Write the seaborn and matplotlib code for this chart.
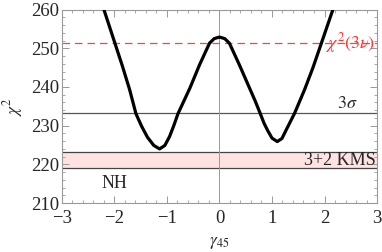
import numpy as np
import pandas as pd
import matplotlib
matplotlib.use('Agg')
import matplotlib.pyplot as plt
import seaborn as sns

# chi^2 profile
gamma = [-2.20, -1.99, -1.85, -1.71, -1.59, -1.48, -1.37, -1.25, -1.14, -1.04,
         -0.95, -0.87, -0.79, -0.68, -0.56, -0.38, -0.19, -0.10, 0.00, 0.10,
         0.19, 0.38, 0.57, 0.68, 0.775, 0.85, 0.92, 1.00, 1.10, 1.19,
         1.27, 1.43, 1.62, 1.78, 1.94, 2.16]
chi2 = [260.0, 251.3, 245.5, 239.3, 233.1, 229.8, 227.0, 224.9, 224.0, 224.9,
        227.2, 230.0, 233.1, 236.3, 239.8, 245.7, 251.3, 252.5, 252.9, 252.5,
        251.3, 245.7, 239.8, 236.4, 233.2, 230.6, 228.7, 226.8, 225.9, 226.7,
        228.9, 233.2, 239.3, 245.0, 251.3, 260.0]

chi2_3nu = 251.3
sigma3 = 233.2
kms_band = [219.1, 223.1]

df = pd.DataFrame({'gamma45': gamma, 'chi2': chi2})

sns.set_style('ticks')
plt.rcParams['font.family'] = ['Liberation Serif', 'DejaVu Serif']
plt.rcParams['mathtext.fontset'] = 'stix'

fig = plt.figure(figsize=(3.82, 2.52), dpi=100)
ax = fig.add_axes([0.162, 0.194, 0.825, 0.768])

ax.axhspan(kms_band[0], kms_band[1], color='#ffe3e3', lw=0, zorder=0)
for yv in kms_band:
    ax.axhline(yv, color='#444444', lw=0.9, zorder=1)
ax.axhline(sigma3, color='#555555', lw=0.9, zorder=1)
ax.axvline(0, color='#999999', lw=0.7, zorder=1)
ax.axhline(chi2_3nu, color='#ff4040', lw=0.9, ls=(0, (6, 4)), zorder=1)

sns.lineplot(data=df, x='gamma45', y='chi2', color='black', lw=2.3,
             sort=False, ax=ax, zorder=3)
ax.lines[-1].set_solid_joinstyle('round')

ax.text(2.97, chi2_3nu, r'$\chi^2(3\nu)$', color='#ff3030', fontsize=13,
        ha='right', va='center', zorder=4)
ax.text(2.62, sigma3 + 0.3, r'$3\sigma$', fontsize=13, ha='right', va='bottom')
ax.text(2.97, sum(kms_band) / 2, '3+2 KMS', fontsize=13, ha='right', va='center')
ax.text(-2.0, 215, 'NH', fontsize=13, ha='center', va='center')

ax.set_xlim(-3, 3)
ax.set_ylim(210, 260)
ax.set_xticks(np.arange(-3, 4, 1))
ax.set_xticklabels(['\u22123', '\u22122', '\u22121', '0', '1', '2', '3'])
ax.set_yticks(np.arange(210, 261, 10))
ax.set_xticks(np.arange(-3, 3.01, 0.2), minor=True)
ax.set_yticks(np.arange(210, 260.1, 2), minor=True)
ax.tick_params(which='both', direction='in', top=True, right=True,
               color='#999999', labelsize=13.5)
ax.tick_params(which='major', length=5, width=0.7)
ax.tick_params(which='minor', length=2.5, width=0.6)
ax.tick_params(axis='x', pad=5)
ax.tick_params(axis='y', pad=2)
for s in ax.spines.values():
    s.set_color('#999999')
    s.set_linewidth(0.8)

ax.set_xlabel(r'$\gamma_{45}$', fontsize=12.5, va='center')
ax.xaxis.set_label_coords(0.5, -0.205)
ax.set_ylabel(r'$\chi^2$', fontsize=12.5, va='center')
ax.yaxis.set_label_coords(-0.155, 0.5)

fig.savefig('out.png', dpi=100)
